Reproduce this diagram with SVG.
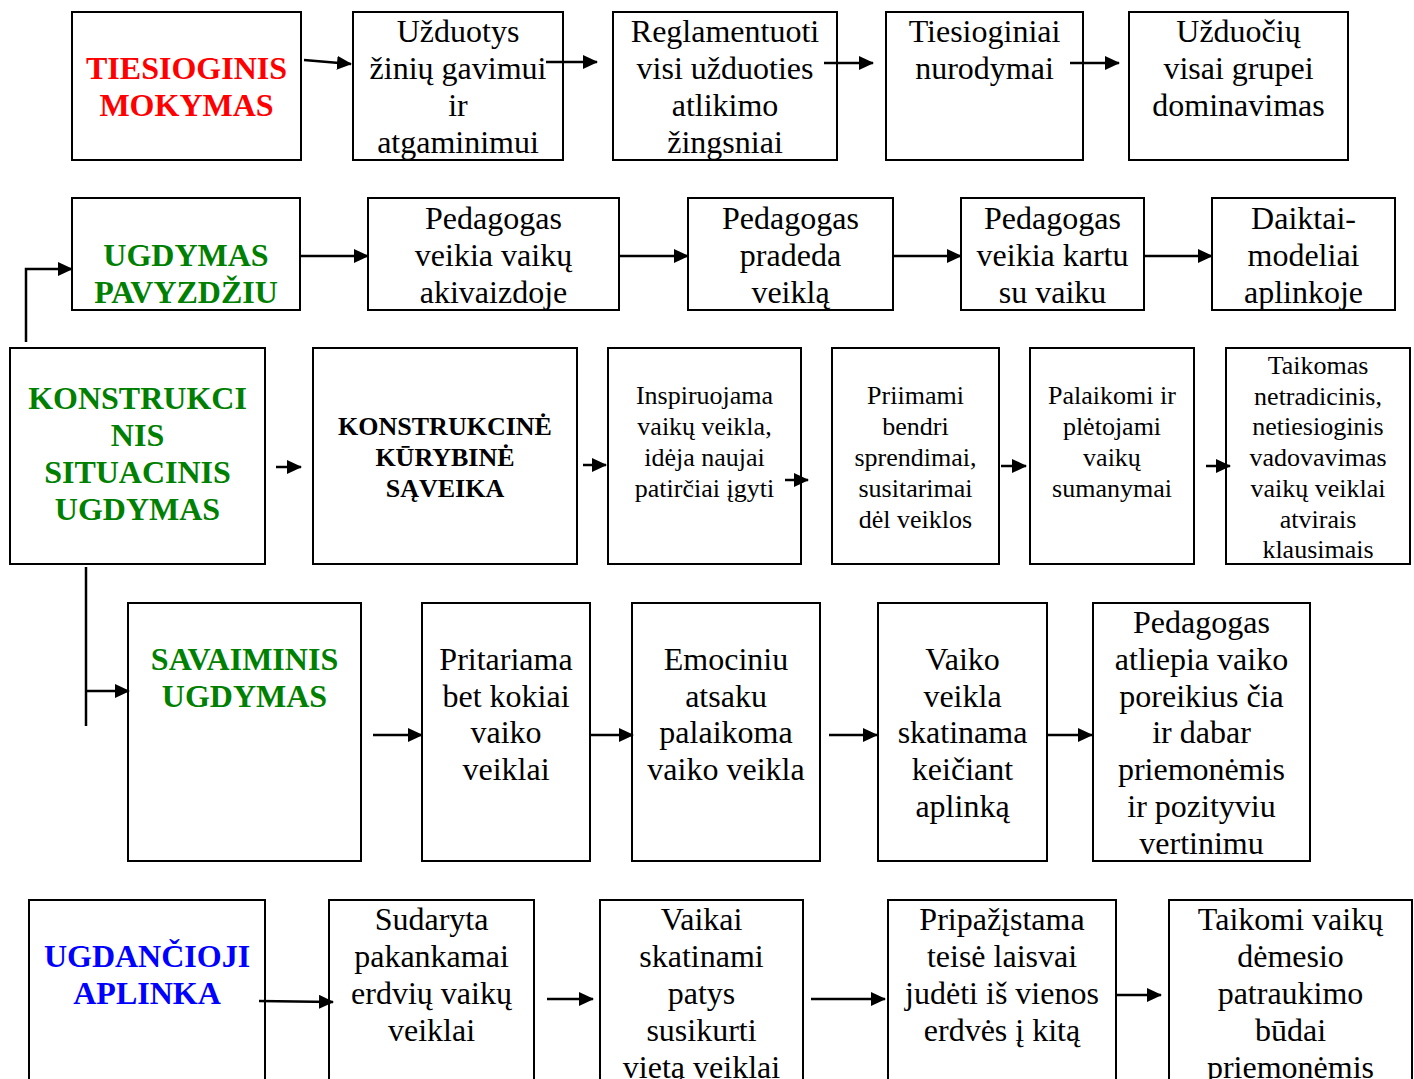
<svg xmlns="http://www.w3.org/2000/svg" width="1414" height="1079" viewBox="0 0 1414 1079">
<defs>
<style>
.b{fill:#fff;stroke:#000;stroke-width:2}
.t{font-family:"Liberation Serif","Times New Roman",serif;font-size:32px;text-anchor:middle;fill:#000}
.s{font-size:26px}
.h{font-weight:bold}
.red{fill:#ff0000}
.grn{fill:#008000}
.blu{fill:#0000ff}
.c line,.c polyline{stroke:#000;stroke-width:2.5;fill:none}
</style>
<marker id="ar" markerUnits="userSpaceOnUse" markerWidth="15" markerHeight="14" refX="14" refY="7" orient="auto">
<path d="M0,0 L15,7 L0,14 z" fill="#000"/>
</marker>
</defs>
<rect width="1414" height="1079" fill="#fff"/>

<!-- Row 1 -->
<g id="n1"><rect class="b" x="72" y="12" width="229" height="148"/><text class="t h red" x="186.5" y="79">TIESIOGINIS<tspan x="186.5" dy="37">MOKYMAS</tspan></text></g>
<g id="n2"><rect class="b" x="353" y="12" width="210" height="148"/><text class="t" x="458" y="42">Užduotys<tspan x="458" dy="37">žinių gavimui</tspan><tspan x="458" dy="37">ir</tspan><tspan x="458" dy="37">atgaminimui</tspan></text></g>
<g id="n3"><rect class="b" x="613" y="12" width="224" height="148"/><text class="t" x="725" y="42">Reglamentuoti<tspan x="725" dy="37">visi užduoties</tspan><tspan x="725" dy="37">atlikimo</tspan><tspan x="725" dy="37">žingsniai</tspan></text></g>
<g id="n4"><rect class="b" x="886" y="12" width="197" height="148"/><text class="t" x="984.5" y="42">Tiesioginiai<tspan x="984.5" dy="37">nurodymai</tspan></text></g>
<g id="n5"><rect class="b" x="1129" y="12" width="219" height="148"/><text class="t" x="1238.5" y="42">Užduočių<tspan x="1238.5" dy="37">visai grupei</tspan><tspan x="1238.5" dy="37">dominavimas</tspan></text></g>

<!-- Row 2 -->
<g id="n6"><rect class="b" x="72" y="198" width="228" height="112"/><text class="t h grn" x="186" y="266">UGDYMAS<tspan x="186" dy="37">PAVYZDŽIU</tspan></text></g>
<g id="n7"><rect class="b" x="368" y="198" width="251" height="112"/><text class="t" x="493.5" y="229">Pedagogas<tspan x="493.5" dy="37">veikia vaikų</tspan><tspan x="493.5" dy="37">akivaizdoje</tspan></text></g>
<g id="n8"><rect class="b" x="688" y="198" width="205" height="112"/><text class="t" x="790.5" y="229">Pedagogas<tspan x="790.5" dy="37">pradeda</tspan><tspan x="790.5" dy="37">veiklą</tspan></text></g>
<g id="n9"><rect class="b" x="961" y="198" width="183" height="112"/><text class="t" x="1052.5" y="229">Pedagogas<tspan x="1052.5" dy="37">veikia kartu</tspan><tspan x="1052.5" dy="37">su vaiku</tspan></text></g>
<g id="n10"><rect class="b" x="1212" y="198" width="183" height="112"/><text class="t" x="1303.5" y="229">Daiktai-<tspan x="1303.5" dy="37">modeliai</tspan><tspan x="1303.5" dy="37">aplinkoje</tspan></text></g>

<!-- Row 3 -->
<g id="n11"><rect class="b" x="10" y="348" width="255" height="216"/><text class="t h grn" x="137.5" y="409">KONSTRUKCI<tspan x="137.5" dy="37">NIS</tspan><tspan x="137.5" dy="37">SITUACINIS</tspan><tspan x="137.5" dy="37">UGDYMAS</tspan></text></g>
<g id="n12"><rect class="b" x="313" y="348" width="264" height="216"/><text class="t s h" x="445" y="435">KONSTRUKCINĖ<tspan x="445" dy="31">KŪRYBINĖ</tspan><tspan x="445" dy="31">SĄVEIKA</tspan></text></g>
<g id="n13"><rect class="b" x="608" y="348" width="193" height="216"/><text class="t s" x="704.5" y="404">Inspiruojama<tspan x="704.5" dy="31">vaikų veikla,</tspan><tspan x="704.5" dy="31">idėja naujai</tspan><tspan x="704.5" dy="31">patirčiai įgyti</tspan></text></g>
<g id="n14"><rect class="b" x="832" y="348" width="167" height="216"/><text class="t s" x="915.5" y="404">Priimami<tspan x="915.5" dy="31">bendri</tspan><tspan x="915.5" dy="31">sprendimai,</tspan><tspan x="915.5" dy="31">susitarimai</tspan><tspan x="915.5" dy="31">dėl veiklos</tspan></text></g>
<g id="n15"><rect class="b" x="1030" y="348" width="164" height="216"/><text class="t s" x="1112" y="404">Palaikomi ir<tspan x="1112" dy="31">plėtojami</tspan><tspan x="1112" dy="31">vaikų</tspan><tspan x="1112" dy="31">sumanymai</tspan></text></g>
<g id="n16"><rect class="b" x="1226" y="348" width="184" height="216"/><text class="t s" x="1318" y="374">Taikomas<tspan x="1318" dy="30.7">netradicinis,</tspan><tspan x="1318" dy="30.7">netiesioginis</tspan><tspan x="1318" dy="30.7">vadovavimas</tspan><tspan x="1318" dy="30.7">vaikų veiklai</tspan><tspan x="1318" dy="30.7">atvirais</tspan><tspan x="1318" dy="30.7">klausimais</tspan></text></g>

<!-- Row 4 -->
<g id="n17"><rect class="b" x="128" y="603" width="233" height="258"/><text class="t h grn" x="244.5" y="670">SAVAIMINIS<tspan x="244.5" dy="37">UGDYMAS</tspan></text></g>
<g id="n18"><rect class="b" x="422" y="603" width="168" height="258"/><text class="t" x="506" y="670">Pritariama<tspan x="506" dy="36.7">bet kokiai</tspan><tspan x="506" dy="36.7">vaiko</tspan><tspan x="506" dy="36.7">veiklai</tspan></text></g>
<g id="n19"><rect class="b" x="632" y="603" width="188" height="258"/><text class="t" x="726" y="670">Emociniu<tspan x="726" dy="36.7">atsaku</tspan><tspan x="726" dy="36.7">palaikoma</tspan><tspan x="726" dy="36.7">vaiko veikla</tspan></text></g>
<g id="n20"><rect class="b" x="878" y="603" width="169" height="258"/><text class="t" x="962.5" y="670">Vaiko<tspan x="962.5" dy="36.7">veikla</tspan><tspan x="962.5" dy="36.7">skatinama</tspan><tspan x="962.5" dy="36.7">keičiant</tspan><tspan x="962.5" dy="36.7">aplinką</tspan></text></g>
<g id="n21"><rect class="b" x="1093" y="603" width="217" height="258"/><text class="t" x="1201.5" y="633">Pedagogas<tspan x="1201.5" dy="36.8">atliepia vaiko</tspan><tspan x="1201.5" dy="36.8">poreikius čia</tspan><tspan x="1201.5" dy="36.8">ir dabar</tspan><tspan x="1201.5" dy="36.8">priemonėmis</tspan><tspan x="1201.5" dy="36.8">ir pozityviu</tspan><tspan x="1201.5" dy="36.8">vertinimu</tspan></text></g>

<!-- Row 5 -->
<g id="n22"><rect class="b" x="29" y="900" width="236" height="200"/><text class="t h blu" x="147" y="967">UGDANČIOJI<tspan x="147" dy="37">APLINKA</tspan></text></g>
<g id="n23"><rect class="b" x="329" y="900" width="205" height="200"/><text class="t" x="431.5" y="930">Sudaryta<tspan x="431.5" dy="37">pakankamai</tspan><tspan x="431.5" dy="37">erdvių vaikų</tspan><tspan x="431.5" dy="37">veiklai</tspan></text></g>
<g id="n24"><rect class="b" x="600" y="900" width="203" height="200"/><text class="t" x="701.5" y="930">Vaikai<tspan x="701.5" dy="37">skatinami</tspan><tspan x="701.5" dy="37">patys</tspan><tspan x="701.5" dy="37">susikurti</tspan><tspan x="701.5" dy="37">vietą veiklai</tspan></text></g>
<g id="n25"><rect class="b" x="888" y="900" width="228" height="200"/><text class="t" x="1002" y="930">Pripažįstama<tspan x="1002" dy="37">teisė laisvai</tspan><tspan x="1002" dy="37">judėti iš vienos</tspan><tspan x="1002" dy="37">erdvės į kitą</tspan></text></g>
<g id="n26"><rect class="b" x="1169" y="900" width="243" height="200"/><text class="t" x="1290.5" y="930">Taikomi vaikų<tspan x="1290.5" dy="37">dėmesio</tspan><tspan x="1290.5" dy="37">patraukimo</tspan><tspan x="1290.5" dy="37">būdai</tspan><tspan x="1290.5" dy="37">priemonėmis</tspan></text></g>

<!-- Connectors -->
<g id="connectors" class="c">
<line x1="304" y1="60" x2="351" y2="64" marker-end="url(#ar)"/>
<line x1="546" y1="62" x2="597" y2="62" marker-end="url(#ar)"/>
<line x1="824" y1="63" x2="873" y2="63" marker-end="url(#ar)"/>
<line x1="1070" y1="63" x2="1119" y2="63" marker-end="url(#ar)"/>

<line x1="300" y1="256" x2="368" y2="256" marker-end="url(#ar)"/>
<line x1="619" y1="256" x2="688" y2="256" marker-end="url(#ar)"/>
<line x1="893" y1="256" x2="961" y2="256" marker-end="url(#ar)"/>
<line x1="1144" y1="256" x2="1212" y2="256" marker-end="url(#ar)"/>

<polyline points="26,342 26,269 72,269" marker-end="url(#ar)"/>

<line x1="276" y1="467" x2="301" y2="467" marker-end="url(#ar)"/>
<line x1="583" y1="465" x2="606" y2="465" marker-end="url(#ar)"/>
<line x1="785" y1="480" x2="808" y2="480" marker-end="url(#ar)"/>
<line x1="1001" y1="466" x2="1026" y2="466" marker-end="url(#ar)"/>
<line x1="1206" y1="466" x2="1230" y2="466" marker-end="url(#ar)"/>

<line x1="86" y1="567" x2="86" y2="726"/>
<line x1="86" y1="691" x2="129" y2="691" marker-end="url(#ar)"/>

<line x1="373" y1="735" x2="422" y2="735" marker-end="url(#ar)"/>
<line x1="590" y1="735" x2="633" y2="735" marker-end="url(#ar)"/>
<line x1="829" y1="735" x2="877" y2="735" marker-end="url(#ar)"/>
<line x1="1047" y1="735" x2="1092" y2="735" marker-end="url(#ar)"/>

<line x1="259" y1="1001" x2="333" y2="1002" marker-end="url(#ar)"/>
<line x1="547" y1="999" x2="593" y2="999" marker-end="url(#ar)"/>
<line x1="811" y1="999" x2="885" y2="999" marker-end="url(#ar)"/>
<line x1="1116" y1="995" x2="1161" y2="995" marker-end="url(#ar)"/>
</g>
</svg>
